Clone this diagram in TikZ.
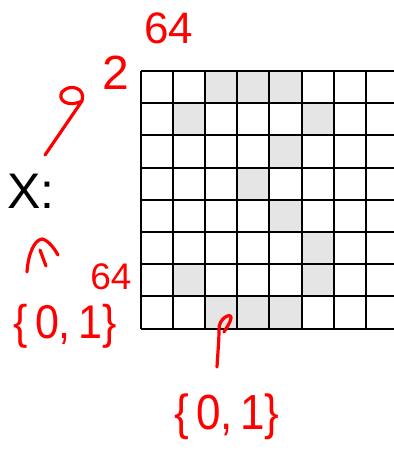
\documentclass[tikz,border=0pt]{standalone}
\usepackage{fontspec}
\setmainfont{Liberation Sans}
\begin{document}
\begin{tikzpicture}[x=1pt,y=-1pt,
  ink/.style={red,line width=3.2pt,line cap=round,line join=round},
  hand/.style={red,inner sep=0pt,font=\fontsize{#1}{#1}\selectfont},
  cellfill/.style={fill=black!10,draw=none},
  gridline/.style={black,line width=2pt}]
\useasboundingbox (0,0) rectangle (393,454);
\def\cs{32.2}
% shaded cells (col,row)
\foreach \c/\r in {2/0,3/0,4/0,1/1,5/1,4/2,3/3,4/4,5/5,1/6,5/6,2/7,3/7,4/7}
  \fill[cellfill] ({140.5+\c*\cs},{71+\r*\cs}) rectangle ++(\cs,\cs);
% grid
\foreach \i in {0,...,8} {
  \draw[gridline] ({140.5+\i*\cs},71) -- ({140.5+\i*\cs},{71+8*\cs});
  \draw[gridline] (140.5,{71+\i*\cs}) -- ({140.5+8*\cs},{71+\i*\cs});
}
% label X:
\node[inner sep=0pt,font=\fontsize{50}{50}\selectfont] (xlabel) at (31,191) {X:};
% red annotations
\node[hand=44] (sixtyfour) at (169,28) {64};
\node[hand=48] (two) at (116,73) {2};
\node[hand=37] (sixtyfourb) at (111,277) {64};
\node[hand=43,yscale=1.1] (setleft) at (65,326) {\{\,0,\,1\}};
\node[hand=44,yscale=1.12] (setbottom) at (227,417) {\{\,0,\,1\}};
% arrow from X up (loop head)
\draw[ink] (45,155) -- (82,101) .. controls (86,88) and (70,83) .. (62,92)
  .. controls (57,100) and (68,108) .. (82,101);
% up caret arrow on left
\draw[ink] (27,272) .. controls (28,255) and (34,240) .. (42,239)
  .. controls (48,240) and (54,248) .. (58,255);
\draw[ink] (40,250) -- (46,266);
% bottom arrow up to grid
\draw[ink] (217,367) .. controls (218,350) and (219,340) .. (219,330)
  .. controls (218,318) and (232,312) .. (231,318)
  .. controls (230,324) and (226,328) .. (224,332);
\end{tikzpicture}
\end{document}
